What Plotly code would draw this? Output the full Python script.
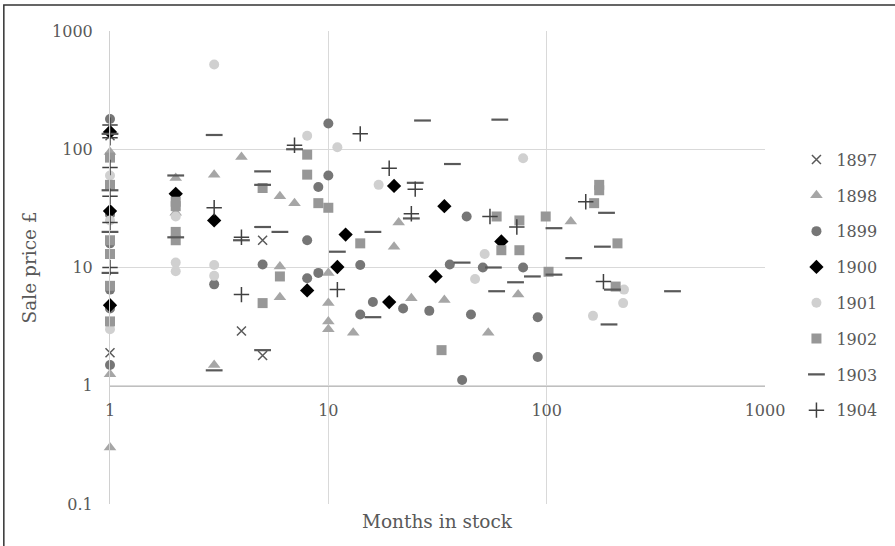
import plotly.graph_objects as go

years = ["1897", "1898", "1899", "1900", "1901", "1902", "1903", "1904"]

x_1897 = [1, 1, 4, 5, 5]
y_1897 = [1.9, 130, 2.9, 17, 1.8]

x_1898 = [1, 1, 1, 2, 2, 3, 3, 4, 6, 6, 6, 7, 10, 10, 10, 10, 13, 20, 21, 24, 34, 54, 74, 129]
y_1898 = [0.3, 1.25, 95, 57, 29, 1.5, 61, 86, 40, 10.2, 5.6, 35, 9, 5, 3.5, 3.0, 2.8, 15, 24, 5.5, 5.3, 2.8, 5.9, 24.5]

x_1899 = [1, 1, 1, 1, 1, 1, 3, 5, 8, 8, 9, 9, 10, 10, 14, 14, 16, 22, 29, 36, 41, 43, 45, 51, 78, 91, 91]
y_1899 = [180, 28, 16, 6.5, 4.5, 1.5, 7.2, 10.6, 17, 8.1, 48, 9, 165, 60, 10.5, 4.0, 5.1, 4.5, 4.3, 10.6, 1.12, 27, 4.0, 10, 10, 3.8, 1.75]

x_1900 = [1, 1, 1, 2, 3, 8, 11, 12, 19, 20, 31, 34, 62]
y_1900 = [140, 30, 4.8, 42, 25, 6.4, 10.1, 19, 5.1, 49, 8.4, 33, 16.6]

x_1901 = [1, 1, 1, 2, 2, 2, 3, 3, 3, 8, 11, 17, 47, 52, 78, 163, 224, 226]
y_1901 = [60, 25, 3.0, 27, 11, 9.3, 520, 10.5, 8.5, 130, 104, 50, 8, 13, 84, 3.9, 5, 6.5]

x_1902 = [1, 1, 1, 1, 1, 1, 2, 2, 2, 2, 5, 5, 6, 8, 8, 9, 10, 14, 33, 59, 62, 75, 75, 99, 102, 165, 174, 174, 207, 211]
y_1902 = [85, 50, 17, 13, 7, 3.5, 36, 33, 20, 17, 47, 5.0, 8.4, 90, 61, 35, 32, 16, 2.0, 27, 14, 25, 14, 27, 9.2, 35, 50, 45, 6.9, 16]

x_1903 = [1, 1, 1, 1, 2, 2, 3, 3, 4, 5, 5, 5, 5, 6, 7, 11, 16, 16, 24, 25, 27, 37, 41, 57, 59, 61, 72, 86, 108, 108, 133, 180, 188, 193, 200, 377]
y_1903 = [135, 45, 20, 9, 60, 18, 132, 1.35, 17, 65, 50, 22, 2.0, 20, 100, 13.6, 20, 3.8, 26, 52, 175, 75, 11, 10, 6.3, 178, 7.5, 8.4, 21.5, 8.7, 12, 15, 29, 3.3, 6.5, 6.3]

x_1904 = [1, 1, 1, 1, 1, 1, 3, 4, 4, 7, 11, 14, 19, 24, 25, 55, 73, 151, 182]
y_1904 = [160, 125, 70, 40, 24, 10, 32, 18, 5.9, 108, 6.5, 135, 69, 28.5, 46, 27, 22, 36, 7.6]

x_ticks = [1, 10, 100, 1000]
x_tick_labels = ["1", "10", "100", "1000"]
y_ticks = [0.1, 1, 10, 100, 1000]
y_tick_labels = ["0.1", "1", "10", "100", "1000"]

series_x = [x_1897, x_1898, x_1899, x_1900, x_1901, x_1902, x_1903, x_1904]
series_y = [y_1897, y_1898, y_1899, y_1900, y_1901, y_1902, y_1903, y_1904]

styles = [
    dict(symbol="x-thin", size=9, color="#595959", line=dict(width=1.5, color="#595959")),
    dict(symbol="triangle-up", size=11, color="#a6a6a6", line=dict(width=0)),
    dict(symbol="circle", size=10, color="#767676", line=dict(width=0)),
    dict(symbol="diamond", size=11, color="#000000", line=dict(width=0)),
    dict(symbol="circle", size=10, color="#d0d0d0", line=dict(width=0)),
    dict(symbol="square", size=10, color="#979797", line=dict(width=0)),
    dict(symbol="line-ew", size=12, color="#595959", line=dict(width=2.2, color="#595959")),
    dict(symbol="cross-thin", size=11, color="#404040", line=dict(width=1.5, color="#404040")),
]

FONT = "DejaVu Serif"
TXT = "#595959"

fig = go.Figure()
for name, xs, ys, st in zip(years, series_x, series_y, styles):
    fig.add_trace(go.Scatter(
        x=xs, y=ys, mode="markers", name=name, legendgroup=name,
        marker=st, cliponaxis=False,
    ))

fig.update_layout(
    width=895, height=546,
    margin=dict(l=110, r=130, t=31, b=42, autoexpand=False),
    paper_bgcolor="white", plot_bgcolor="white",
    font=dict(family=FONT, size=16, color=TXT),
    showlegend=True,
    legend=dict(x=1.048, xanchor="left", y=0.764, yanchor="top",
                font=dict(family=FONT, size=16, color=TXT),
                tracegroupgap=12, bgcolor="rgba(0,0,0,0)",
                itemsizing="trace"),
    xaxis=dict(type="log", range=[0, 3], tickvals=x_ticks, ticktext=x_tick_labels,
               showgrid=True, gridcolor="#d9d9d9", gridwidth=1,
               anchor="free", position=0.25, automargin=False,
               showline=True, linecolor="#bfbfbf", linewidth=1,
               ticks="outside", ticklen=10, tickcolor="rgba(0,0,0,0)",
               tickfont=dict(family=FONT, size=16, color=TXT), zeroline=False),
    yaxis=dict(type="log", range=[-1, 3], tickvals=y_ticks, ticktext=y_tick_labels,
               showgrid=True, gridcolor="#d9d9d9", gridwidth=1, automargin=False,
               showline=True, linecolor="#d0d0d0", linewidth=1,
               ticks="outside", ticklen=13, tickcolor="rgba(0,0,0,0)",
               tickfont=dict(family=FONT, size=16, color=TXT), zeroline=False),
    annotations=[
        dict(text="Months in stock", xref="paper", yref="paper", x=0.5, y=-0.038,
             xanchor="center", yanchor="middle", showarrow=False,
             font=dict(family=FONT, size=18.5, color=TXT)),
        dict(text="Sale price £", xref="paper", yref="paper", x=-0.1223, y=0.5,
             xanchor="center", yanchor="middle", showarrow=False, textangle=-90,
             font=dict(family=FONT, size=18.5, color=TXT)),
    ],
    shapes=[
        dict(type="rect", xref="paper", yref="paper", x0=-0.1621, x1=1.3, y0=-0.3, y1=1.055,
             line=dict(color="#333333", width=1.5), fillcolor="rgba(0,0,0,0)", layer="below"),
    ],
)

fig.write_html("out.html", config={"displayModeBar": False},
               post_script="document.body.style.margin='0px';")
